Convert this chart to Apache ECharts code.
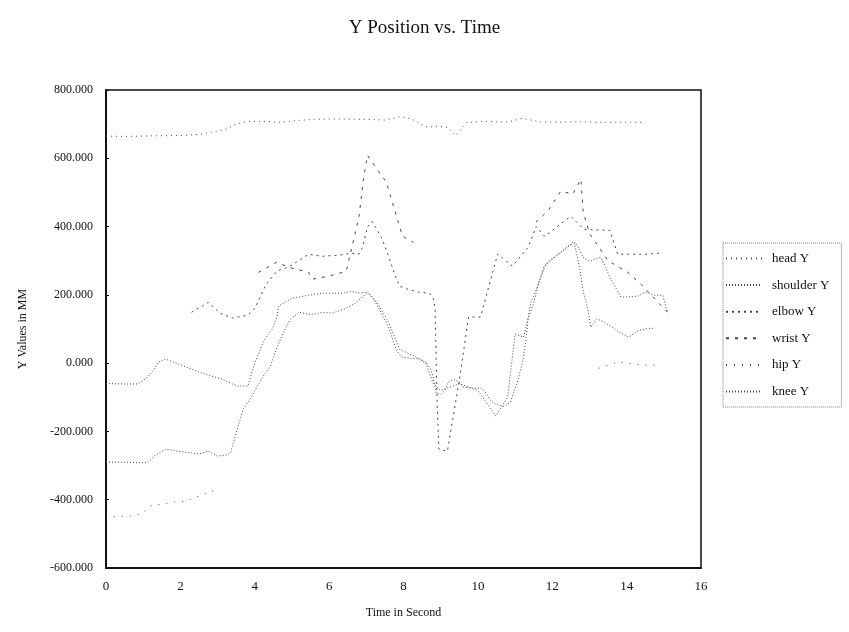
<!DOCTYPE html>
<html>
<head>
<meta charset="utf-8">
<script src="https://cdn.jsdelivr.net/npm/echarts@6/dist/echarts.min.js"></script>
<style>
  html, body { margin: 0; padding: 0; background: #fff; }
  #chart { width: 849px; height: 632px; }
</style>
</head>
<body>
<div id="chart"></div>
<script>
// series names, in legend order
const seriesNames = ['head Y', 'shoulder Y', 'elbow Y', 'wrist Y', 'hip Y', 'knee Y']

// [time (s), Y (mm)]
const headY = [[0, 665], [0.5, 664], [1, 665], [1.5, 666], [2, 667], [2.5, 670], [2.8, 676], [3.2, 684], [3.5, 700],
  [3.8, 708], [4.3, 708], [4.6, 705], [5.2, 711], [5.6, 714], [6, 715], [6.5, 715], [7, 714], [7.5, 712], [7.9, 722],
  [8.2, 716], [8.6, 692], [9, 693], [9.2, 690], [9.4, 666], [9.55, 686], [9.7, 705], [10.2, 708], [10.8, 706],
  [11.2, 717], [11.7, 706], [12.3, 706], [12.7, 707], [13.3, 705], [14, 706], [14.5, 705]]

const shoulderY = [[0, -290], [0.5, -290], [1, -292], [1.13, -290], [1.3, -272], [1.6, -252], [1.95, -258], [2.5, -266],
  [2.75, -258], [3, -272], [3.25, -269], [3.35, -262], [3.53, -193], [3.69, -135], [3.88, -105], [4.07, -67], [4.23, -38],
  [4.42, -9], [4.55, 32], [4.69, 70], [4.82, 100], [4.96, 129], [5.2, 149], [5.5, 142], [5.8, 148], [6.1, 147],
  [6.4, 158], [6.7, 175], [6.9, 195], [7.05, 205], [7.2, 187], [7.35, 158], [7.45, 135], [7.6, 105], [7.8, 40],
  [7.95, 18], [8.2, 14], [8.45, 12], [8.6, 3], [8.72, -15], [8.8, -40], [8.88, -88], [9, -91], [9.1, -82], [9.2, -56],
  [9.35, -47], [9.5, -56], [9.6, -70], [9.8, -73], [10.07, -73], [10.2, -85], [10.35, -111], [10.48, -120],
  [10.7, -127], [10.88, -114], [10.97, -82], [11.06, -56], [11.15, -18], [11.22, 12], [11.3, 75], [11.36, 138],
  [11.42, 178], [11.5, 196], [11.6, 225], [11.7, 252], [11.77, 275], [11.88, 296], [12.1, 315], [12.42, 340],
  [12.58, 357], [12.7, 340], [12.83, 310], [13, 298], [13.12, 304], [13.3, 310], [13.44, 281], [13.53, 255],
  [13.7, 222], [13.85, 193], [14.3, 196], [14.5, 208], [14.75, 199], [14.97, 199], [15.1, 149]]

const elbowY = [[2.3, 149], [2.75, 178], [3.07, 146], [3.4, 132], [3.8, 140], [4, 160], [4.3, 230],
  [4.6, 270], [4.9, 281], [5.45, 319], [5.8, 313], [6.25, 316], [6.6, 322], [6.8, 319], [6.9, 340], [7.03, 398],
  [7.15, 415], [7.25, 398], [7.43, 363], [7.6, 313], [7.78, 255], [7.9, 225], [8.1, 217], [8.4, 208], [8.7, 205],
  [8.8, 190], [8.85, 158], [8.9, -100], [8.95, -252], [9.18, -258], [9.5, -50], [9.75, 135], [10.07, 135],
  [10.53, 319], [10.93, 284], [11.35, 339], [11.57, 400], [11.8, 371], [12.2, 406], [12.5, 430], [12.85, 392],
  [13.2, 390], [13.55, 389], [13.76, 319], [14.5, 319], [14.87, 322]]

const wristY = [[4.1, 266], [4.6, 296], [4.9, 281], [5.45, 266], [5.55, 246], [6, 255], [6.46, 269], [6.8, 427],
  [6.92, 536], [7.03, 609], [7.25, 574], [7.54, 530], [7.97, 372], [8.27, 354], [8.5, null], [11.56, 413],
  [11.9, 448], [12.23, 504], [12.55, 495], [12.77, 539], [12.83, 445], [13, 380], [13.5, 300], [14.03, 266],
  [14.4, 230], [15.1, 149]]

const hipY = [[0, -445], [0.2, -450], [0.7, -447], [0.97, -441], [1.2, -418], [1.9, -406], [2.1, -406], [3.02, -368],
  [3.3, null], [13.25, -15], [13.76, 3], [14.46, -6], [14.92, -6]]

const kneeY = [[0, -60], [0.5, -61], [0.85, -61], [1.05, -47], [1.27, -23], [1.4, 3], [1.6, 12], [2, -5], [2.6, -30],
  [3.12, -47], [3.4, -61], [3.53, -67], [3.82, -67], [3.93, -23], [4.07, 20], [4.15, 41], [4.23, 61], [4.36, 85],
  [4.47, 99], [4.6, 138], [4.64, 167], [5, 190], [5.5, 200], [5.85, 205], [6.36, 205], [6.6, 210], [6.8, 205],
  [7.05, 208], [7.3, 175], [7.6, 120], [7.9, 40], [8.3, 20], [8.6, 0], [8.8, -60], [9, -80], [9.5, -60], [10, -80],
  [10.48, -155], [10.8, -100], [11, 85], [11.23, 76], [11.34, 129], [11.48, 167], [11.64, 237], [11.78, 284],
  [12.1, 313], [12.45, 345], [12.6, 350], [12.75, 270], [12.83, 211], [12.95, 160], [13.04, 105], [13.2, 130],
  [13.4, 120], [13.8, 91], [14.06, 76], [14.3, 95], [14.6, 102], [14.75, 102]]

const xTicks = [0, 2, 4, 6, 8, 10, 12, 14, 16]
const yTicks = [-600, -400, -200, 0, 200, 400, 600, 800]

const seriesData = [headY, shoulderY, elbowY, wristY, hipY, kneeY]
// dash pattern per series, sparse like the scan
const dashes = [[1, 4], [1, 2], [2, 4], [3, 6], [1, 7], [1, 2]]

const fontFam = '"Liberation Serif", "DejaVu Serif", serif'

const chart = echarts.init(document.getElementById('chart'))

const option = {
  backgroundColor: '#fff',
  animation: false,
  title: {
    text: 'Y Position vs. Time',
    left: 'center',
    top: 14,
    textStyle: { fontFamily: fontFam, fontSize: 19, fontWeight: 'normal', color: '#111' }
  },
  legend: {
    data: seriesNames,
    orient: 'vertical',
    left: 723,
    top: 243,
    itemWidth: 36,
    itemHeight: 8,
    itemGap: 13.6,
    padding: [9, 12, 9, 2],
    borderColor: '#777',
    borderWidth: 1,
    borderType: 'dotted',
    itemStyle: { opacity: 0 },
    textStyle: { fontFamily: fontFam, fontSize: 13, color: '#111', padding: [0, 0, 0, 5] }
  },
  grid: {
    left: 106,
    right: 148,
    top: 90,
    bottom: 64,
    show: true,
    borderColor: '#111',
    borderWidth: 1.5
  },
  xAxis: {
    type: 'value',
    min: xTicks[0],
    max: xTicks[xTicks.length - 1],
    interval: 2,
    name: 'Time in Second',
    nameLocation: 'middle',
    nameGap: 39,
    nameTextStyle: { fontFamily: fontFam, fontSize: 12, color: '#111' },
    axisLine: { onZero: false, lineStyle: { color: '#111', width: 2 } },
    axisTick: { show: false },
    splitLine: { show: false },
    axisLabel: { fontFamily: fontFam, fontSize: 13, color: '#111', margin: 12 }
  },
  yAxis: {
    type: 'value',
    min: yTicks[0],
    max: yTicks[yTicks.length - 1],
    interval: 200,
    name: 'Y Values in MM',
    nameLocation: 'middle',
    nameGap: 77,
    nameTextStyle: { fontFamily: fontFam, fontSize: 12, color: '#111' },
    axisLine: { show: true, lineStyle: { color: '#111', width: 2 } },
    axisTick: { show: true, inside: true, length: 3, lineStyle: { color: '#111' } },
    splitLine: { show: false },
    axisLabel: {
      fontFamily: fontFam,
      fontSize: 12,
      color: '#111',
      margin: 13,
      formatter: v => v.toFixed(3)
    }
  },
  series: seriesNames.map((name, i) => ({
    name: name,
    type: 'line',
    data: seriesData[i],
    showSymbol: false,
    symbol: 'none',
    connectNulls: false,
    lineStyle: { color: '#444', width: 1, type: dashes[i] },
    itemStyle: { color: '#444' }
  }))
}

chart.setOption(option)
</script>
</body>
</html>
